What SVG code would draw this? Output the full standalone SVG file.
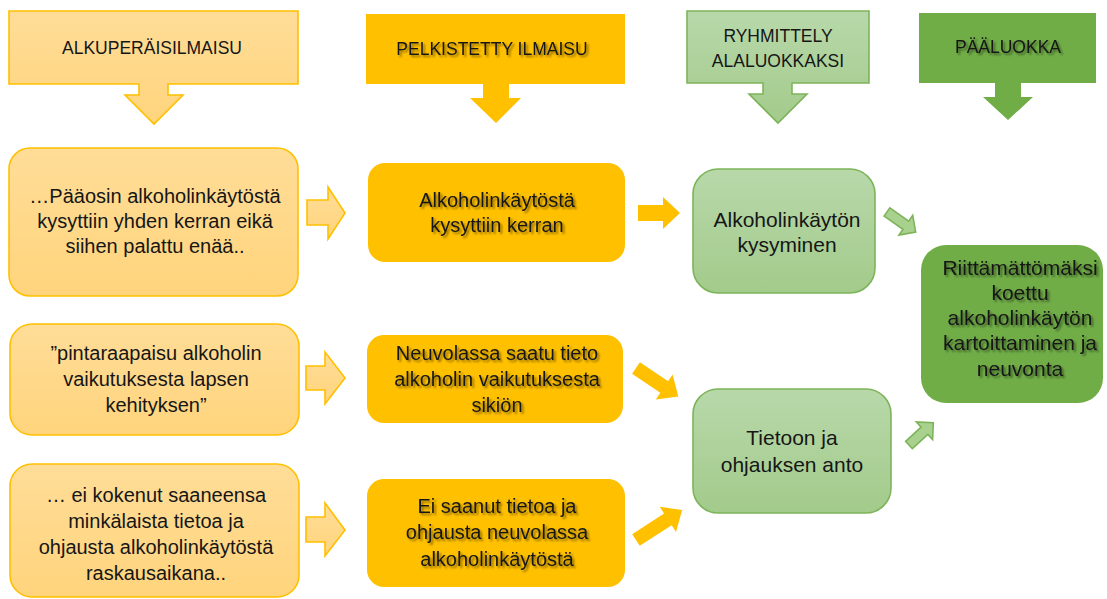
<svg xmlns="http://www.w3.org/2000/svg" width="1107" height="599" viewBox="0 0 1107 599">
  <defs>
    <linearGradient id="gOrange" x1="0" y1="0" x2="0" y2="1">
      <stop offset="0" stop-color="#FFDD98"/>
      <stop offset="1" stop-color="#FFD47C"/>
    </linearGradient>
    <linearGradient id="gGreen" x1="0" y1="0" x2="0" y2="1">
      <stop offset="0" stop-color="#B8D8AA"/>
      <stop offset="1" stop-color="#A3CB8B"/>
    </linearGradient>
    <filter id="tshadow" x="-10%" y="-30%" width="120%" height="160%">
      <feGaussianBlur in="SourceAlpha" stdDeviation="1.2" result="b"/>
      <feOffset in="b" dx="1.8" dy="1.8" result="o"/>
      <feComponentTransfer in="o" result="s">
        <feFuncA type="linear" slope="0.45"/>
      </feComponentTransfer>
      <feMerge>
        <feMergeNode in="s"/>
        <feMergeNode in="SourceGraphic"/>
      </feMerge>
    </filter>
  </defs>
  <style>
    text { font-family: "Liberation Sans", Arial, sans-serif; fill: #161616; text-anchor: middle; }
    .hd { font-size: 17.5px; }
    .bd { font-size: 20px; }
    .bg { font-size: 21px; }
    .sh { filter: url(#tshadow); }
    .lightOrange { fill: url(#gOrange); stroke: #FFC000; stroke-width: 1.6; }
    .solidOrange { fill: #FFC000; stroke: none; }
    .lightGreen { fill: url(#gGreen); stroke: #7DB45A; stroke-width: 1.6; }
    .darkGreen { fill: #70AD47; stroke: none; }
    .arrowOrangeOutline { fill: url(#gOrange); stroke: #FFC000; stroke-width: 1.6; stroke-linejoin: miter; }
    .arrowOrange { fill: #FFC000; stroke: none; }
    .arrowGreenOutline { fill: #A9D18E; stroke: #7DB45A; stroke-width: 1.6; }
  </style>

  <!-- Headers -->
  <g id="header-alkuperaisilmaisu">
    <path class="lightOrange" d="M9,11 H298 V84 H168 V95 H183 L154,124 L125,95 H139 V84 H9 Z"/>
    <text class="hd" x="152" y="54">ALKUPERÄISILMAISU</text>
  </g>
  <g id="header-pelkistetty">
    <path class="solidOrange" d="M366,14 H625 V84 H509 V98 H521 L496,123 L470,98 H483 V84 H366 Z"/>
    <text class="hd sh" x="492" y="55">PELKISTETTY ILMAISU</text>
  </g>
  <g id="header-ryhmittely">
    <path class="lightGreen" d="M687,11 H869 V83 H792 V94 H807 L778,123 L749,94 H763 V83 H687 Z"/>
    <text class="hd" x="778" y="42">RYHMITTELY</text>
    <text class="hd" x="778" y="67">ALALUOKKAKSI</text>
  </g>
  <g id="header-paaluokka">
    <path class="darkGreen" d="M919,13 H1096 V83 H1021 V97 H1033 L1008,120 L983,97 H995 V83 H919 Z"/>
    <text class="hd sh" x="1008" y="53">PÄÄLUOKKA</text>
  </g>

  <!-- Left column: original expressions -->
  <g id="orig-1">
    <rect class="lightOrange" x="9" y="148" width="289" height="148" rx="21"/>
    <text class="bd" x="155" y="203">…Pääosin alkoholinkäytöstä</text>
    <text class="bd" x="155" y="228">kysyttiin yhden kerran eikä</text>
    <text class="bd" x="155" y="253">siihen palattu enää..</text>
  </g>
  <g id="orig-2">
    <rect class="lightOrange" x="10" y="324" width="289" height="111" rx="22"/>
    <text class="bd" x="156" y="360">”pintaraapaisu alkoholin</text>
    <text class="bd" x="156" y="386">vaikutuksesta lapsen</text>
    <text class="bd" x="156" y="412">kehityksen”</text>
  </g>
  <g id="orig-3">
    <rect class="lightOrange" x="10" y="464" width="289" height="133" rx="22"/>
    <text class="bd" x="156" y="502">… ei kokenut saaneensa</text>
    <text class="bd" x="156" y="528">minkälaista tietoa ja</text>
    <text class="bd" x="156" y="554">ohjausta alkoholinkäytöstä</text>
    <text class="bd" x="156" y="580">raskausaikana..</text>
  </g>

  <!-- Middle column: reduced expressions -->
  <g id="reduced-1">
    <rect class="solidOrange" x="368" y="163" width="257" height="99" rx="17"/>
    <text class="bd sh" x="497" y="207">Alkoholinkäytöstä</text>
    <text class="bd sh" x="497" y="232">kysyttiin kerran</text>
  </g>
  <g id="reduced-2">
    <rect class="solidOrange" x="367" y="335" width="256" height="88" rx="17"/>
    <text class="bd sh" x="497" y="360">Neuvolassa saatu tieto</text>
    <text class="bd sh" x="497" y="386">alkoholin vaikutuksesta</text>
    <text class="bd sh" x="497" y="412">sikiön</text>
  </g>
  <g id="reduced-3">
    <rect class="solidOrange" x="367" y="479" width="258" height="108" rx="17"/>
    <text class="bd sh" x="497" y="513">Ei saanut tietoa ja</text>
    <text class="bd sh" x="497" y="539">ohjausta neuvolassa</text>
    <text class="bd sh" x="497" y="566">alkoholinkäytöstä</text>
  </g>

  <!-- Sub-categories -->
  <g id="sub-kysyminen">
    <rect class="lightGreen" x="693" y="169" width="182" height="124" rx="25"/>
    <text class="bg" x="787" y="227">Alkoholinkäytön</text>
    <text class="bg" x="787" y="252">kysyminen</text>
  </g>
  <g id="sub-tietoon">
    <rect class="lightGreen" x="693" y="389" width="198" height="124" rx="25"/>
    <text class="bg" x="792" y="445">Tietoon ja</text>
    <text class="bg" x="792" y="472">ohjauksen anto</text>
  </g>

  <!-- Main category -->
  <g id="main-category">
    <rect class="darkGreen" x="921" y="245" width="182" height="158" rx="25"/>
    <text class="bg sh" x="1020" y="275">Riittämättömäksi</text>
    <text class="bg sh" x="1020" y="300">koettu</text>
    <text class="bg sh" x="1020" y="325">alkoholinkäytön</text>
    <text class="bg sh" x="1020" y="350">kartoittaminen ja</text>
    <text class="bg sh" x="1020" y="376">neuvonta</text>
  </g>

  <!-- Connectors -->
  <g id="connectors">
    <polygon class="arrowOrangeOutline" points="307,200 328,200 328,187 345,213 328,239 328,225 307,225"/>
    <polygon class="arrowOrangeOutline" points="306,366 325,366 325,352 345,378 325,404 325,390 306,390"/>
    <polygon class="arrowOrangeOutline" points="306,517 325,517 325,503 345,530 325,556 325,542 306,542"/>
    <polygon class="arrowOrange" points="638,205 663,205 663,197 680,213 663,229 663,221 638,221"/>
    <polygon class="arrowOrange" transform="translate(636,368) rotate(34)" points="0,-7 34,-7 34,-15 51,0 34,15 34,7 0,7"/>
    <polygon class="arrowOrange" transform="translate(636,540) rotate(-33)" points="0,-7 38,-7 38,-15 55,0 38,15 38,7 0,7"/>
    <polygon class="arrowGreenOutline" transform="translate(887,212) rotate(35)" points="0,-5 23,-5 23,-12 35,0 23,12 23,5 0,5"/>
    <polygon class="arrowGreenOutline" transform="translate(909,445) rotate(-42.5)" points="0,-5 21,-5 21,-12 33,0 21,12 21,5 0,5"/>
  </g>
</svg>
